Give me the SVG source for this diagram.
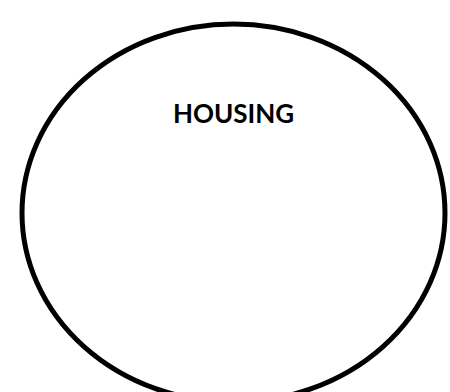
<svg xmlns="http://www.w3.org/2000/svg" width="450" height="392" viewBox="0 0 450 392">
<style>
.shape{fill:#fff;stroke:#000;stroke-width:5}
.lbl{font-family:Lato,"Open Sans","Liberation Sans",sans-serif;font-weight:bold;font-size:26px;fill:#000;text-anchor:middle}
</style>
<rect width="450" height="392" fill="#fff"/>
<g id="connectors"></g>
<g id="housing">
<ellipse class="shape" cx="233.5" cy="213" rx="211.5" ry="189"/>
<text class="lbl" x="233.5" y="123">HOUSING</text>
</g>
</svg>
